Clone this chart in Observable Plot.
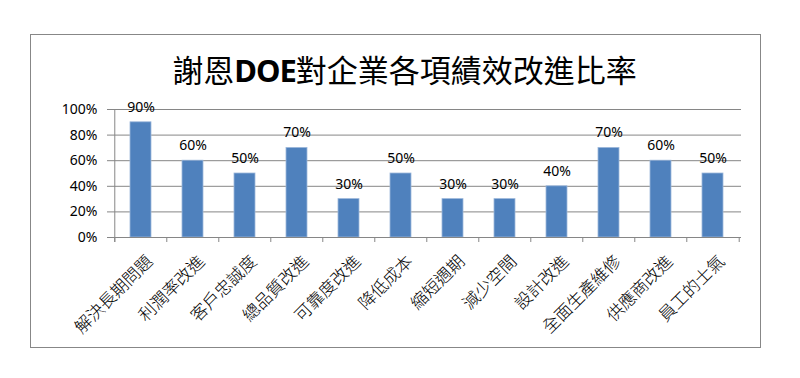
<!DOCTYPE html>
<html>
<head>
<meta charset="utf-8">
<script src="https://cdn.jsdelivr.net/npm/d3@7"></script>
<script src="https://cdn.jsdelivr.net/npm/@observablehq/plot@0.6"></script>
<style>
  html, body { margin: 0; padding: 0; background: #fff; }
  #wrap { position: relative; width: 800px; height: 378px; overflow: hidden; background: #fff; }
  #border { position: absolute; left: 30px; top: 34px; width: 729px; height: 312px; border: 1px solid #878787; pointer-events: none; }
  #title { position: absolute; left: 0; top: 53px; width: 809px; text-align: center; font-family: "Noto Sans CJK TC", sans-serif; font-size: 31px; line-height: 31px; font-weight: 400; color: #000; }
  #title b { font-family: "Noto Sans", sans-serif; font-weight: 700; letter-spacing: -1px; }
  #chart { position: absolute; left: 0; top: 0; }
</style>
</head>
<body>
<div id="wrap">
  <div id="chart"></div>
  <div id="border"></div>
  <div id="title">謝恩<b>DOE</b>對企業各項績效改進比率</div>
</div>
<script>
const categories = ["解決長期問題", "利潤率改進", "客戶忠誠度", "總品質改進", "可靠度改進", "降低成本", "縮短週期", "減少空間", "設計改進", "全面生產維修", "供應商改進", "員工的士氣"];
const values = [0.9, 0.6, 0.5, 0.7, 0.3, 0.5, 0.3, 0.3, 0.4, 0.7, 0.6, 0.5];
const yTicks = [0, 0.2, 0.4, 0.6, 0.8, 1.0];

const data = categories.map((c, i) => ({category: c, value: values[i]}));
const pct = d3.format(".0%");

const W = 800, H = 378;
const mL = 112, mR = 59, mT = 109, mB = 141;
const step = (W - mL - mR) / categories.length;
const grey = "#868686";

const chart = Plot.plot({
  width: W,
  height: H,
  marginLeft: mL,
  marginRight: mR,
  marginTop: mT,
  marginBottom: mB,
  style: {background: "transparent", fontFamily: "'Noto Sans', sans-serif", color: "#000"},
  x: {type: "band", domain: categories, paddingInner: 0.6, paddingOuter: 0.3, axis: null, label: null},
  y: {domain: [0, 1], axis: null, label: null},
  marks: [
    Plot.ruleY(yTicks.slice(1), {stroke: grey, strokeWidth: 1}),
    Plot.barY(data, {x: "category", y: "value", fill: "#4F81BD", stroke: "#9DB8DB", strokeWidth: 0.8}),
    Plot.ruleY([0], {stroke: grey, strokeWidth: 1}),
    // category boundary ticks
    Plot.ruleX(categories, {x: d => d, dx: -step / 2, y1: () => 0, y2: () => 0, insetBottom: -5, stroke: grey}),
    Plot.ruleX(categories.slice(-1), {x: d => d, dx: step / 2, y1: () => 0, y2: () => 0, insetBottom: -5, stroke: grey}),
    // y axis line
    Plot.ruleX(categories.slice(0, 1), {x: d => d, dx: -step / 2, y1: () => 0, y2: () => 1, insetTop: 5, stroke: grey}),
    Plot.axisY({ticks: yTicks, tickFormat: pct, tickSize: 5, tickPadding: 10, stroke: grey, fontSize: 14, fill: "#000", label: null}),
    Plot.text(data, {x: "category", y: "value", text: d => pct(d.value), dy: -15, fontSize: 14, fill: "#000"}),
    Plot.text(categories, {x: d => d, frameAnchor: "bottom", rotate: -45, textAnchor: "end", lineAnchor: "middle", dx: 9, dy: 21, fontSize: 17, fontFamily: "'Noto Sans CJK TC', sans-serif", fontWeight: 300, fill: "#000"})
  ]
});
document.getElementById("chart").appendChild(chart);
</script>
</body>
</html>
